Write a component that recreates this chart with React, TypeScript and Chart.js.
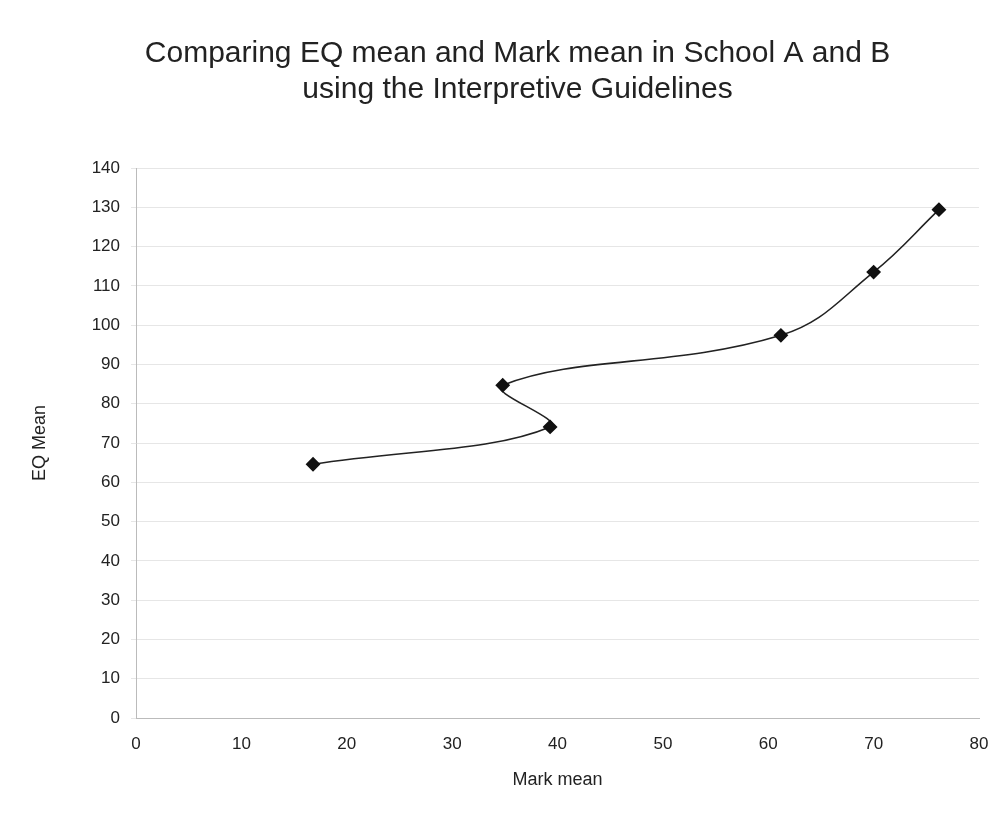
import React, { useEffect, useRef } from "react";
import { Chart, registerables } from "chart.js";

Chart.register(...registerables);

const markMean = [16.8, 39.3, 34.8, 61.2, 70.0, 76.2];
const eqMean = [64.6, 74.1, 84.7, 97.4, 113.5, 129.4];
const titleLines = [
  "Comparing EQ mean and Mark mean in School A and B",
  "using the Interpretive Guidelines",
];
const xTitle = "Mark mean";
const yTitle = "EQ Mean";

export default function App() {
  const ref = useRef<HTMLCanvasElement | null>(null);
  useEffect(() => {
    document.body.style.margin = "0";
    const ctx = ref.current;
    if (!ctx) return;
    const font = "'Liberation Sans', Arial, sans-serif";
    const chart = new Chart(ctx, {
      type: "scatter",
      data: {
        datasets: [
          {
            label: "EQ",
            data: markMean.map((x, i) => ({ x, y: eqMean[i] })),
            showLine: true,
            tension: 0.4,
            borderColor: "#222",
            borderWidth: 1.6,
            pointStyle: "rectRot",
            pointRadius: 6.3,
            pointBackgroundColor: "#111",
            pointBorderColor: "#111",
          },
        ],
      },
      options: {
        animation: false,
        responsive: false,
        layout: { padding: { top: 0, left: 56, right: 25, bottom: 39 } },
        plugins: {
          legend: { display: false },
          tooltip: { enabled: false },
          title: {
            display: true,
            text: titleLines,
            color: "#222",
            font: { family: font, size: 30, weight: "normal", lineHeight: 1.2 },
            padding: { top: 36, bottom: 60 },
          },
        },
        scales: {
          x: {
            type: "linear",
            min: 0,
            max: 80,
            ticks: { stepSize: 10, color: "#222", font: { family: font, size: 17 }, padding: 11 },
            grid: { display: false, tickLength: 5, color: "#bbb" },
            border: { color: "#bbb" },
            title: { display: true, text: xTitle, color: "#222", font: { family: font, size: 18 } },
            afterFit: (s: any) => { s.height = 77; },
          },
          y: {
            type: "linear",
            min: 0,
            max: 140,
            ticks: { stepSize: 10, color: "#222", font: { family: font, size: 17 }, padding: 11 },
            grid: { color: "#e6e6e6", tickLength: 5 },
            border: { color: "#bbb" },
            title: {
              display: true,
              text: yTitle,
              color: "#222",
              font: { family: font, size: 18 },
              padding: { top: -27, bottom: 4 },
            },
            afterFit: (s: any) => { s.width = 80; },
          },
        },
      },
    });
    return () => chart.destroy();
  }, []);
  return <canvas ref={ref} width={1004} height={834} style={{ display: "block" }} />;
}
